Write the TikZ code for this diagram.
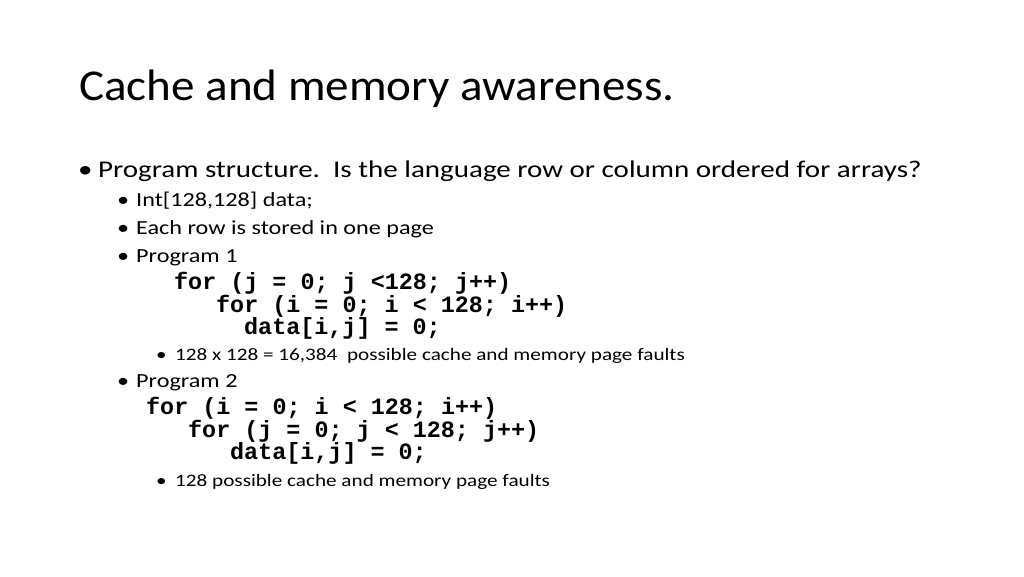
\documentclass[tikz,border=0pt]{standalone}
\usepackage{fontspec}
\setmainfont[FakeStretch=1.21]{Carlito}
\newfontfamily\titlefont[FakeStretch=1.07]{Carlito}
\newfontfamily\codefont{Liberation Mono}
\begin{document}
\begin{tikzpicture}[x=1pt,y=-1pt,
  t/.style={anchor=base west,inner sep=0pt},
  l1/.style={t,font=\fontsize{24}{28}\selectfont},
  l2/.style={t,font=\fontsize{20}{24}\selectfont},
  l3/.style={t,font=\fontsize{17.5}{21}\selectfont},
  cd/.style={t,font=\codefont\bfseries\fontsize{23.4}{26}\selectfont}]
\useasboundingbox[fill=white] (0,0) rectangle (1024,576);
\node[t,font=\titlefont\fontsize{44}{50}\selectfont] (title) at (79,100) {Cache and memory awareness.};
\node[l1] (b1) at (78,177) {•};
\node[l1] (s1) at (98,177) {Program structure.\ \ Is the language row or column ordered for arrays?};
\node[l2] (b2) at (117,206) {•}; \node[l2] (s2) at (136,206) {Int[128,128] data;};
\node[l2] (b3) at (117,234) {•}; \node[l2] (s3) at (136,234) {Each row is stored in one page};
\node[l2] (b4) at (117,262) {•}; \node[l2] (s4) at (136,262) {Program 1};
\node[cd] (c1) at (174,289) {for (j = 0; j <128; j++)};
\node[cd] (c2) at (216,312) {for (i = 0; i < 128; i++)};
\node[cd] (c3) at (244,334) {data[i,j] = 0;};
\node[l3] (b5) at (156,360) {•}; \node[l3] (s5) at (175,360) {128 x 128 = 16,384\ \ possible cache and memory page faults};
\node[l2] (b6) at (117,387) {•}; \node[l2] (s6) at (136,387) {Program 2};
\node[cd] (c4) at (146,414) {for (i = 0; i < 128; i++)};
\node[cd] (c5) at (188,437) {for (j = 0; j < 128; j++)};
\node[cd] (c6) at (230,459) {data[i,j] = 0;};
\node[l3] (b7) at (156,486) {•}; \node[l3] (s7) at (175,486) {128 possible cache and memory page faults};
\end{tikzpicture}
\end{document}
